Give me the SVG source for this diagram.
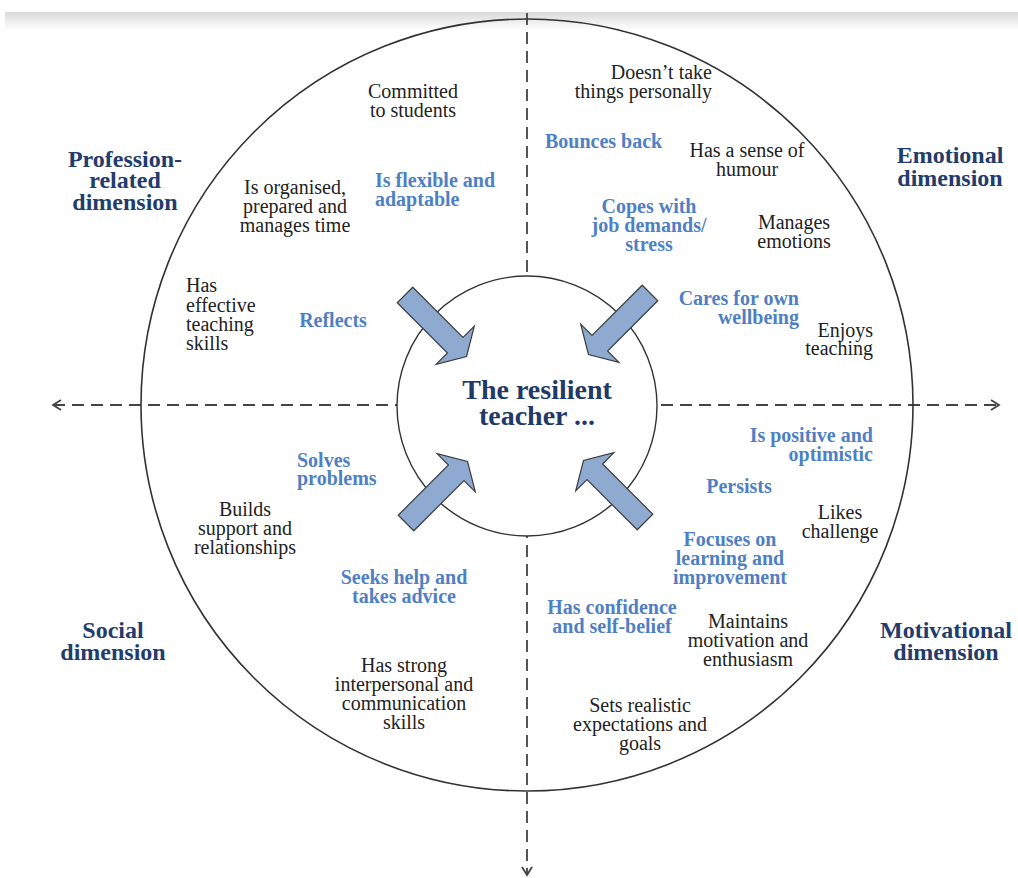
<svg xmlns="http://www.w3.org/2000/svg" width="1018" height="878" viewBox="0 0 1018 878">
  <defs>
    <linearGradient id="topShade" x1="0" y1="0" x2="0" y2="1">
      <stop offset="0" stop-color="#d9d9d9"/>
      <stop offset="1" stop-color="#ffffff"/>
    </linearGradient>
    <marker id="openHead" viewBox="0 0 12 12" refX="10" refY="6" markerWidth="12" markerHeight="12" markerUnits="userSpaceOnUse" orient="auto-start-reverse">
      <path d="M2,1 L10,6 L2,11" fill="none" stroke="#444" stroke-width="1.8"/>
    </marker>
    <!-- block arrow pointing along +x, tail centred at the origin -->
    <path id="blockArrow" d="M0,-11 L71,-11 L71,-27 L87,0 L71,27 L71,11 L0,11 Z"/>
  </defs>
  <style>
    .ring { fill: none; stroke: #333; stroke-width: 1.6; }
    .hub { fill: #fff; stroke: #333; stroke-width: 1.4; }
    .axis { fill: none; stroke: #444; stroke-width: 1.8; stroke-dasharray: 12 7; }
    .push { fill: #8eaad0; stroke: #3d3d3d; stroke-width: 1.2; stroke-linejoin: miter; }
    text { font-family: "Liberation Serif", "Times New Roman", serif; }
    .dim { font-size: 24px; font-weight: bold; fill: #223c6c; text-anchor: middle; }
    .core { font-size: 28px; font-weight: bold; fill: #1f3a68; text-anchor: middle; }
    .trait { font-size: 20px; fill: #222; }
    .key { font-size: 20px; font-weight: bold; fill: #4f7fc4; }
    .c { text-anchor: middle; }
    .r { text-anchor: end; }
    .l { text-anchor: start; }
  </style>

  <rect width="1018" height="878" fill="#fff"/>
  <rect x="5" y="12" width="1013" height="18" fill="url(#topShade)"/>

  <!-- axes and outer ring -->
  <g id="connectors">
    <line class="axis" x1="527" y1="13" x2="527" y2="875" marker-end="url(#openHead)"/>
    <line class="axis" x1="53" y1="405" x2="999" y2="405" marker-start="url(#openHead)" marker-end="url(#openHead)"/>
  </g>

  <g id="outer-ring">
    <circle class="ring" cx="527" cy="405" r="386"/>
  </g>

  <!-- centre -->
  <g id="resilient-teacher">
    <circle class="hub" cx="527" cy="406" r="130"/>
    <text class="core" x="537" y="399">The resilient</text>
    <text class="core" x="537" y="425">teacher ...</text>
  </g>

  <g id="arrows">
    <use href="#blockArrow" class="push" transform="translate(405,295) rotate(45)"/>
    <use href="#blockArrow" class="push" transform="translate(650,293) rotate(135)"/>
    <use href="#blockArrow" class="push" transform="translate(406,523) rotate(-45)"/>
    <use href="#blockArrow" class="push" transform="translate(645,522) rotate(-135)"/>
  </g>

  <!-- dimension headings -->
  <g id="profession-dimension">
    <text class="dim" x="125" y="167">Profession-</text>
    <text class="dim" x="125" y="188">related</text>
    <text class="dim" x="125" y="210">dimension</text>
  </g>
  <g id="emotional-dimension">
    <text class="dim" x="950" y="163">Emotional</text>
    <text class="dim" x="950" y="186">dimension</text>
  </g>
  <g id="social-dimension">
    <text class="dim" x="113" y="638">Social</text>
    <text class="dim" x="113" y="660">dimension</text>
  </g>
  <g id="motivational-dimension">
    <text class="dim" x="946" y="638">Motivational</text>
    <text class="dim" x="946" y="660">dimension</text>
  </g>

  <!-- profession-related traits -->
  <g id="committed">
    <text class="trait c" x="413" y="98">Committed</text>
    <text class="trait c" x="413" y="117">to students</text>
  </g>
  <g id="flexible">
    <text class="key l" x="375" y="187">Is flexible and</text>
    <text class="key l" x="375" y="206">adaptable</text>
  </g>
  <g id="organised">
    <text class="trait c" x="295" y="194">Is organised,</text>
    <text class="trait c" x="295" y="213">prepared and</text>
    <text class="trait c" x="295" y="232">manages time</text>
  </g>
  <g id="teaching-skills">
    <text class="trait l" x="186" y="292">Has</text>
    <text class="trait l" x="186" y="312">effective</text>
    <text class="trait l" x="186" y="331">teaching</text>
    <text class="trait l" x="186" y="350">skills</text>
  </g>
  <g id="reflects">
    <text class="key c" x="333" y="327">Reflects</text>
  </g>

  <!-- emotional traits -->
  <g id="not-personal">
    <text class="trait r" x="712" y="79">Doesn’t take</text>
    <text class="trait r" x="712" y="98">things personally</text>
  </g>
  <g id="bounces-back">
    <text class="key l" x="545" y="148">Bounces back</text>
  </g>
  <g id="humour">
    <text class="trait c" x="747" y="157">Has a sense of</text>
    <text class="trait c" x="747" y="176">humour</text>
  </g>
  <g id="copes">
    <text class="key c" x="649" y="213">Copes with</text>
    <text class="key c" x="649" y="232">job demands/</text>
    <text class="key c" x="649" y="251">stress</text>
  </g>
  <g id="manages-emotions">
    <text class="trait c" x="794" y="229">Manages</text>
    <text class="trait c" x="794" y="248">emotions</text>
  </g>
  <g id="wellbeing">
    <text class="key r" x="799" y="305">Cares for own</text>
    <text class="key r" x="799" y="324">wellbeing</text>
  </g>
  <g id="enjoys-teaching">
    <text class="trait r" x="873" y="337">Enjoys</text>
    <text class="trait r" x="873" y="355">teaching</text>
  </g>

  <!-- motivational traits -->
  <g id="positive">
    <text class="key r" x="873" y="442">Is positive and</text>
    <text class="key r" x="873" y="461">optimistic</text>
  </g>
  <g id="persists">
    <text class="key c" x="739" y="493">Persists</text>
  </g>
  <g id="likes-challenge">
    <text class="trait c" x="840" y="519">Likes</text>
    <text class="trait c" x="840" y="538">challenge</text>
  </g>
  <g id="focuses">
    <text class="key c" x="730" y="546">Focuses on</text>
    <text class="key c" x="730" y="565">learning and</text>
    <text class="key c" x="730" y="584">improvement</text>
  </g>
  <g id="confidence">
    <text class="key c" x="612" y="614">Has confidence</text>
    <text class="key c" x="612" y="633">and self-belief</text>
  </g>
  <g id="motivation">
    <text class="trait c" x="748" y="628">Maintains</text>
    <text class="trait c" x="748" y="647">motivation and</text>
    <text class="trait c" x="748" y="666">enthusiasm</text>
  </g>
  <g id="expectations">
    <text class="trait c" x="640" y="712">Sets realistic</text>
    <text class="trait c" x="640" y="731">expectations and</text>
    <text class="trait c" x="640" y="750">goals</text>
  </g>

  <!-- social traits -->
  <g id="solves-problems">
    <text class="key l" x="297" y="467">Solves</text>
    <text class="key l" x="297" y="485">problems</text>
  </g>
  <g id="builds-support">
    <text class="trait c" x="245" y="516">Builds</text>
    <text class="trait c" x="245" y="535">support and</text>
    <text class="trait c" x="245" y="554">relationships</text>
  </g>
  <g id="seeks-help">
    <text class="key c" x="404" y="584">Seeks help and</text>
    <text class="key c" x="404" y="603">takes advice</text>
  </g>
  <g id="interpersonal">
    <text class="trait c" x="404" y="672">Has strong</text>
    <text class="trait c" x="404" y="691">interpersonal and</text>
    <text class="trait c" x="404" y="710">communication</text>
    <text class="trait c" x="404" y="729">skills</text>
  </g>
</svg>
